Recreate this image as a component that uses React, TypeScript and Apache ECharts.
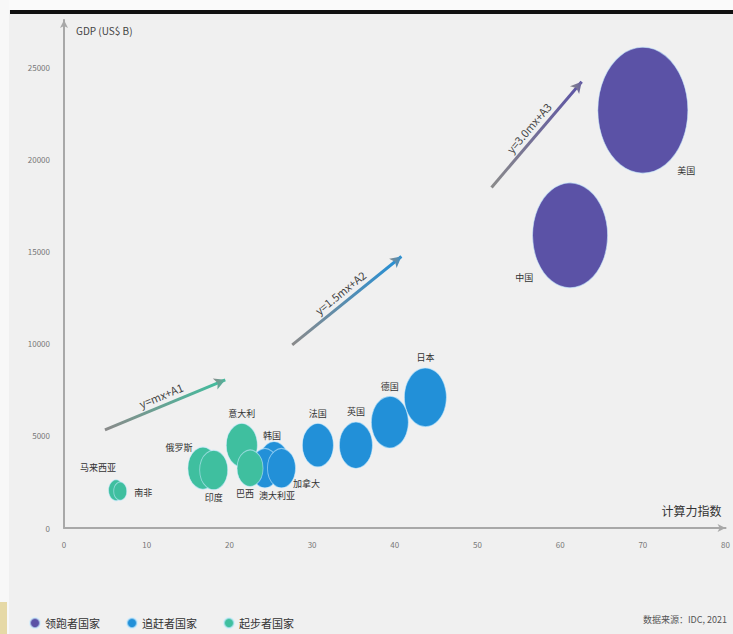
import React, { useEffect, useRef } from "react";
import * as echarts from "echarts";

// 领跑者国家
const leaderNames = ["美国", "中国"];
const leaderIndex = [70.0, 61.2];
const leaderGdp = [22700, 15900];
const leaderBubble = [90, 75];

// 追赶者国家
const chaserNames = ["日本", "德国", "英国", "法国", "韩国", "澳大利亚", "加拿大"];
const chaserIndex = [43.7, 39.4, 35.3, 30.7, 25.4, 24.3, 26.3];
const chaserGdp = [7100, 5750, 4500, 4500, 3550, 3250, 3250];
const chaserBubble = [42, 37, 33, 31, 30, 28, 28];

// 起步者国家
const starterNames = ["意大利", "巴西", "俄罗斯", "印度", "马来西亚", "南非"];
const starterIndex = [21.5, 22.5, 16.8, 18.1, 6.3, 6.8];
const starterGdp = [4500, 3250, 3250, 3150, 2050, 2000];
const starterBubble = [31, 26, 30, 28, 15, 13];

const legendNames = ["领跑者国家", "追赶者国家", "起步者国家"];
const trendLabels = ["y=3.0mx+A3", "y=1.5mx+A2", "y=mx+A1"];
const trendStart = [[51.7, 18500], [27.6, 9950], [4.95, 5330]];
const trendEnd = [[62.6, 24250], [40.8, 14750], [19.5, 8050]];

const xTicks = [0, 80, 10];
const yTicks = [0, 27600, 5000];

const COLORS = ["#5b52a6", "#2290d8", "#3fbf9f"];

const labelCfg: Record<string, any> = {
  美国: { position: "right", offset: [-16, 60] },
  中国: { position: "left", offset: [6, 42] },
  日本: { position: "top" },
  德国: { position: "top" },
  英国: { position: "top" },
  法国: { position: "top" },
  韩国: { position: "top", offset: [-2, 4] },
  澳大利亚: { position: "bottom", offset: [12, -2] },
  加拿大: { position: "right", offset: [-8, 15] },
  意大利: { position: "top" },
  巴西: { position: "bottom", offset: [-5, -3] },
  俄罗斯: { position: "left", offset: [10, -21] },
  印度: { position: "bottom", offset: [0, -2] },
  马来西亚: { position: "top", offset: [-18, -2] },
  南非: { position: "right", offset: [2, 1] },
};

function buildData(names: string[], xs: number[], ys: number[], ss: number[]) {
  return names.map((n, i) => ({
    name: n,
    value: [xs[i], ys[i], ss[i]],
    label: { show: true, ...(labelCfg[n] || { position: "top" }) },
  }));
}

function grad(c: string) {
  return new echarts.graphic.LinearGradient(0, 1, 1, 0, [
    { offset: 0, color: "#8a8a8a" },
    { offset: 1, color: c },
  ]);
}

function trend(i: number, color: string) {
  return {
    silent: true,
    symbol: ["none", "arrow"],
    symbolSize: [9, 11],
    lineStyle: { color: grad(color), width: 3, type: "solid" },
    itemStyle: { color },
    label: {
      show: true,
      position: "middle",
      formatter: trendLabels[i],
      color: "#444",
      fontSize: 11,
      fontFamily: "Noto Sans CJK SC",
    },
    emphasis: { disabled: true },
    data: [[{ coord: trendStart[i] }, { coord: trendEnd[i] }]],
  };
}

export default function App() {
  const ref = useRef<HTMLDivElement>(null);
  useEffect(() => {
    if (!ref.current) return;
    const chart = echarts.init(ref.current, null, { renderer: "svg" });
    const seriesBase = (name: string, color: string, data: any[], idx: number) => ({
      name,
      type: "scatter",
      data,
      symbol: "circle",
      symbolSize: (v: number[]) => [v[2], v[2] * 1.4],
      itemStyle: { color, opacity: 1, borderColor: "rgba(200,235,255,0.6)", borderWidth: 1 },
      label: {
        show: true,
        color: "#333",
        fontSize: 9,
        fontFamily: "Noto Sans CJK SC",
        formatter: "{b}",
      },
      markLine: trend(idx, color),
    });
    chart.setOption({
      animation: false,
      backgroundColor: "#f0f0f0",
      textStyle: { fontFamily: "Noto Sans CJK SC" },
      grid: { left: 64, right: 7, top: 20, bottom: 106, containLabel: false },
      graphic: [
        { type: "rect", left: 0, top: 0, shape: { width: 733, height: 10 }, style: { fill: "#fafafa" }, silent: true },
        { type: "rect", left: 0, top: 0, shape: { width: 9, height: 634 }, style: { fill: "#f8f8f8" }, silent: true },
        { type: "rect", left: 10, top: 10, shape: { width: 723, height: 4 }, style: { fill: "#111" }, silent: true },
        { type: "rect", left: 0, top: 602, shape: { width: 7, height: 32 }, style: { fill: "#e6d9a6" }, silent: true },
        {
          type: "text",
          right: 6,
          top: 615,
          style: { text: "数据来源：IDC, 2021", fill: "#555", fontSize: 9, fontFamily: "Noto Sans CJK SC" },
        },
      ],
      legend: {
        data: legendNames,
        left: 24,
        top: 612,
        icon: "circle",
        itemWidth: 10,
        itemHeight: 12,
        itemGap: 26,
        textStyle: { color: "#333", fontSize: 11, fontFamily: "Noto Sans CJK SC" },
      },
      xAxis: {
        type: "value",
        min: xTicks[0],
        max: xTicks[1],
        interval: xTicks[2],
        name: "计算力指数",
        nameLocation: "end",
        nameGap: 0,
        nameTextStyle: {
          color: "#333",
          fontSize: 12,
          align: "right",
          verticalAlign: "bottom",
          padding: [0, 4, 12, 0],
        },
        axisLine: { show: true, lineStyle: { color: "#a8a8a8", width: 2 }, symbol: ["none", "arrow"], symbolSize: [6, 8] },
        axisTick: { show: false },
        axisLabel: { color: "#777", fontSize: 8, margin: 12 },
        splitLine: { show: false },
      },
      yAxis: {
        type: "value",
        min: yTicks[0],
        max: yTicks[1],
        interval: yTicks[2],
        name: "GDP (US$ B)",
        nameLocation: "end",
        nameGap: -10,
        nameTextStyle: {
          color: "#444",
          fontSize: 10,
          align: "left",
          verticalAlign: "middle",
          padding: [0, 0, 0, 12],
        },
        axisLine: { show: true, lineStyle: { color: "#a8a8a8", width: 2 }, symbol: ["none", "arrow"], symbolSize: [6, 8] },
        axisTick: { show: false },
        axisLabel: {
          color: "#777",
          fontSize: 8,
          margin: 14,
          showMaxLabel: false,
          formatter: (v: number) => String(v),
        },
        splitLine: { show: false },
      },
      series: [
        seriesBase(legendNames[0], COLORS[0], buildData(leaderNames, leaderIndex, leaderGdp, leaderBubble), 0),
        seriesBase(legendNames[1], COLORS[1], buildData(chaserNames, chaserIndex, chaserGdp, chaserBubble), 1),
        seriesBase(legendNames[2], COLORS[2], buildData(starterNames, starterIndex, starterGdp, starterBubble), 2),
      ],
    });
    return () => chart.dispose();
  }, []);
  return (
    <div
      ref={ref}
      style={{ position: "fixed", left: 0, top: 0, width: 733, height: 634 }}
    />
  );
}
